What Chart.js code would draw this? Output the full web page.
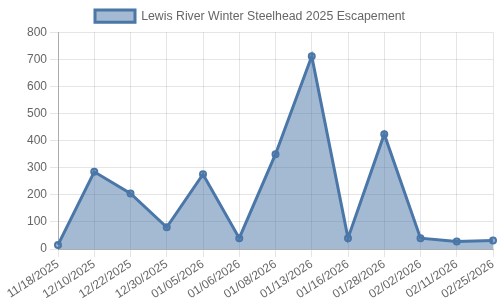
<!DOCTYPE html>
<html>
<head>
<meta charset="utf-8">
<script src="https://cdn.jsdelivr.net/npm/chart.js@4"></script>
<style>
  html, body { margin: 0; padding: 0; background: #fff; }
  #wrap { width: 500px; height: 300px; }
</style>
</head>
<body>
<div id="wrap"><canvas id="chart"></canvas></div>
<script>
const dates = ['11/18/2025', '12/10/2025', '12/22/2025', '12/30/2025', '01/05/2026', '01/06/2026',
    '01/08/2026', '01/13/2026', '01/16/2026', '01/28/2026', '02/02/2026', '02/11/2026', '02/25/2026'];
const escapement = [15, 285, 205, 80, 276, 40, 350, 712, 40, 424, 40, 28, 31];
const yTicks = [0, 100, 200, 300, 400, 500, 600, 700, 800];

Chart.defaults.font.family = '"Liberation Sans", Arial, sans-serif';
Chart.defaults.font.size = 12;
Chart.defaults.color = '#666';

new Chart(document.getElementById('chart'), {
    type: 'line',
    data: {
        labels: dates,
        datasets: [{
            label: 'Lewis River Winter Steelhead 2025 Escapement',
            data: escapement,
            borderColor: '#4a76a8',
            backgroundColor: 'rgba(74,118,168,0.5)',
            borderWidth: 3,
            pointRadius: 3,
            pointBackgroundColor: 'rgba(74,118,168,0.5)',
            pointBorderColor: '#4a76a8',
            pointBorderWidth: 2,
            fill: true,
            tension: 0
        }]
    },
    options: {
        responsive: true,
        maintainAspectRatio: false,
        animation: false,
        plugins: {
            legend: {
                labels: {font: {size: 12.3}, boxWidth: 40}
            }
        },
        scales: {
            x: {
                ticks: {maxRotation: 33, minRotation: 33, padding: 0},
                grid: {color: 'rgba(0,0,0,0.1)'},
                border: {color: 'rgba(0,0,0,0.25)'},
                afterFit: axis => {
                    axis.height = 51;
                    axis.paddingRight = 7;
                }
            },
            y: {
                min: 0,
                max: 800,
                afterBuildTicks: axis => { axis.ticks = yTicks.map(v => ({value: v})); },
                grid: {color: 'rgba(0,0,0,0.1)'},
                border: {color: 'rgba(0,0,0,0.25)'},
                afterFit: axis => { axis.width = 58; }
            }
        }
    }
});
</script>
</body>
</html>
